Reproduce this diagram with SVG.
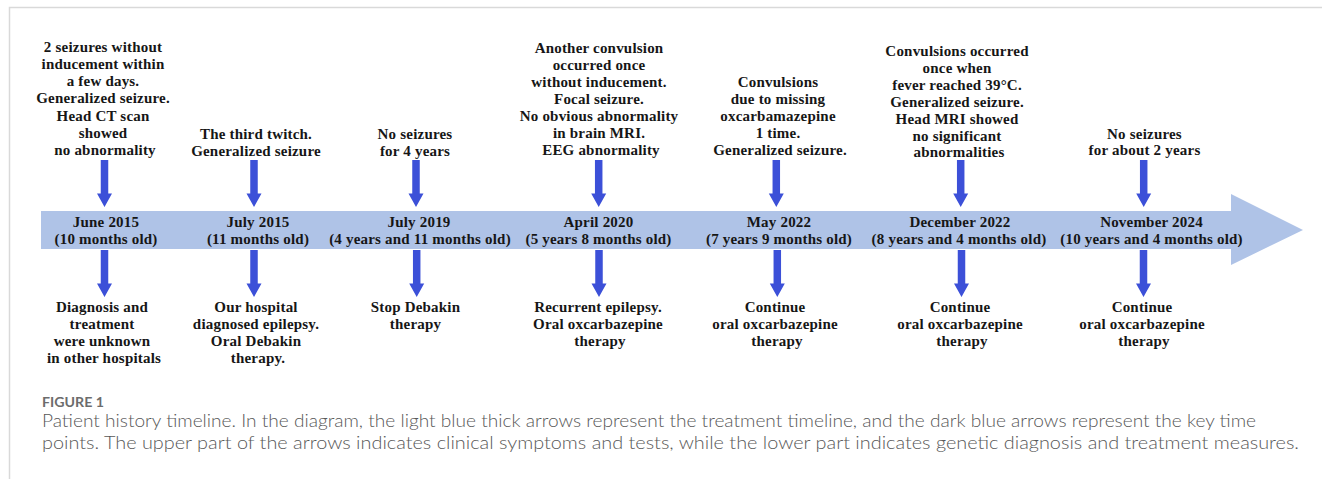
<svg xmlns="http://www.w3.org/2000/svg" xmlns:xlink="http://www.w3.org/1999/xlink" width="1322" height="479" viewBox="0 0 1322 479">
<style>
.t{font-family:"Liberation Serif","Times New Roman",serif;font-weight:bold;font-size:15px;letter-spacing:0.2px;fill:#161616;text-anchor:middle}
.cap{font-family:Lato,"Open Sans",sans-serif;font-size:17px;font-weight:300;fill:#585858}
.fig{font-family:Lato,"Open Sans",sans-serif;font-size:14px;font-weight:bold;fill:#6c6c6c}
.da{fill:#3c50d8}
.frame{stroke:#d9d9d9;stroke-width:1.5;fill:none}
</style>
<defs>
<path id="darr" d="M-3.75,0 H3.75 V33.5 H7.5 L0,47 L-7.5,33.5 H-3.75 Z"/>
</defs>
<rect width="1322" height="479" fill="#ffffff"/>
<path class="frame" d="M9.5,479 V7.5 H1322"/>

<g id="timeline">
<path d="M41,211 H1231 V194 L1303,230 L1231,265 V249 H41 Z" fill="#afc3e7"/>
</g>

<g id="connectors">
<use xlink:href="#darr" class="da" x="104.5" y="160"/>
<use xlink:href="#darr" class="da" x="254" y="160"/>
<use xlink:href="#darr" class="da" x="416" y="160"/>
<use xlink:href="#darr" class="da" x="598.7" y="160"/>
<use xlink:href="#darr" class="da" x="776.3" y="160"/>
<use xlink:href="#darr" class="da" x="960.7" y="160"/>
<use xlink:href="#darr" class="da" x="1143.7" y="160"/>
<use xlink:href="#darr" class="da" x="104.5" y="250"/>
<use xlink:href="#darr" class="da" x="254" y="250"/>
<use xlink:href="#darr" class="da" x="416.7" y="250"/>
<use xlink:href="#darr" class="da" x="599" y="250"/>
<use xlink:href="#darr" class="da" x="777.3" y="250"/>
<use xlink:href="#darr" class="da" x="961.5" y="250"/>
<use xlink:href="#darr" class="da" x="1143.5" y="250"/>
</g>

<g id="event-2015-06">
<text class="t" x="105">
<tspan x="105" y="51.8">2 seizures without</tspan>
<tspan x="105" y="69">inducement within</tspan>
<tspan x="105" y="86.2">a few days.</tspan>
<tspan x="105" y="103.4">Generalized seizure.</tspan>
<tspan x="105" y="120.6">Head CT scan</tspan>
<tspan x="105" y="137.8">showed</tspan>
<tspan x="105" y="155">no abnormality</tspan>
</text>
<text class="t"><tspan x="106" y="227">June 2015</tspan><tspan x="106" y="243.5">(10 months old)</tspan></text>
<text class="t">
<tspan x="104" y="312">Diagnosis and</tspan>
<tspan x="104" y="329">treatment</tspan>
<tspan x="104" y="346">were unknown</tspan>
<tspan x="104" y="363">in other hospitals</tspan>
</text>
</g>

<g id="event-2015-07">
<text class="t"><tspan x="256" y="139">The third twitch.</tspan><tspan x="256" y="156">Generalized seizure</tspan></text>
<text class="t"><tspan x="258" y="227">July 2015</tspan><tspan x="258" y="243.5">(11 months old)</tspan></text>
<text class="t">
<tspan x="258" y="312">Our hospital</tspan>
<tspan x="258" y="329">diagnosed epilepsy.</tspan>
<tspan x="258" y="346">Oral Debakin</tspan>
<tspan x="258" y="363">therapy.</tspan>
</text>
</g>

<g id="event-2019-07">
<text class="t"><tspan x="415" y="139">No seizures</tspan><tspan x="415" y="156">for 4 years</tspan></text>
<text class="t"><tspan x="419" y="227">July 2019</tspan><tspan x="420" y="243.5">(4 years and 11 months old)</tspan></text>
<text class="t"><tspan x="415.5" y="312">Stop Debakin</tspan><tspan x="415.5" y="329">therapy</tspan></text>
</g>

<g id="event-2020-04">
<text class="t">
<tspan x="601" y="52.5">Another convulsion</tspan>
<tspan x="601" y="69.6">occurred once</tspan>
<tspan x="601" y="86.7">without inducement.</tspan>
<tspan x="601" y="103.8">Focal seizure.</tspan>
<tspan x="601" y="120.9">No obvious abnormality</tspan>
<tspan x="601" y="138">in brain MRI.</tspan>
<tspan x="601" y="155.1">EEG abnormality</tspan>
</text>
<text class="t"><tspan x="598.5" y="227">April 2020</tspan><tspan x="598.5" y="243.5">(5 years 8 months old)</tspan></text>
<text class="t">
<tspan x="600" y="312">Recurrent epilepsy.</tspan>
<tspan x="600" y="329">Oral oxcarbazepine</tspan>
<tspan x="600" y="346">therapy</tspan>
</text>
</g>

<g id="event-2022-05">
<text class="t">
<tspan x="780" y="86.5">Convulsions</tspan>
<tspan x="780" y="103.5">due to missing</tspan>
<tspan x="780" y="120.5">oxcarbamazepine</tspan>
<tspan x="780" y="137.5">1 time.</tspan>
<tspan x="780" y="154.5">Generalized seizure.</tspan>
</text>
<text class="t"><tspan x="779" y="227">May 2022</tspan><tspan x="779" y="243.5">(7 years 9 months old)</tspan></text>
<text class="t">
<tspan x="777" y="312">Continue</tspan>
<tspan x="777" y="329">oral oxcarbazepine</tspan>
<tspan x="777" y="346">therapy</tspan>
</text>
</g>

<g id="event-2022-12">
<text class="t">
<tspan x="959" y="56">Convulsions occurred</tspan>
<tspan x="959" y="72.9">once when</tspan>
<tspan x="959" y="89.8">fever reached 39°C.</tspan>
<tspan x="959" y="106.7">Generalized seizure.</tspan>
<tspan x="959" y="123.6">Head MRI showed</tspan>
<tspan x="959" y="140.5">no significant</tspan>
<tspan x="959" y="157.4">abnormalities</tspan>
</text>
<text class="t"><tspan x="960" y="227">December 2022</tspan><tspan x="959" y="243.5">(8 years and 4 months old)</tspan></text>
<text class="t">
<tspan x="962" y="312">Continue</tspan>
<tspan x="962" y="329">oral oxcarbazepine</tspan>
<tspan x="962" y="346">therapy</tspan>
</text>
</g>

<g id="event-2024-11">
<text class="t"><tspan x="1144.5" y="138.5">No seizures</tspan><tspan x="1144.5" y="155">for about 2 years</tspan></text>
<text class="t"><tspan x="1151.5" y="227">November 2024</tspan><tspan x="1151.5" y="243.5">(10 years and 4 months old)</tspan></text>
<text class="t">
<tspan x="1144" y="312">Continue</tspan>
<tspan x="1144" y="329">oral oxcarbazepine</tspan>
<tspan x="1144" y="346">therapy</tspan>
</text>
</g>

<g id="caption">
<text class="fig" x="42" y="407" textLength="62" lengthAdjust="spacingAndGlyphs">FIGURE 1</text>
<text class="cap" x="42" y="427" textLength="1214" lengthAdjust="spacingAndGlyphs">Patient history timeline. In the diagram, the light blue thick arrows represent the treatment timeline, and the dark blue arrows represent the key time</text>
<text class="cap" x="42" y="449" textLength="1257" lengthAdjust="spacingAndGlyphs">points. The upper part of the arrows indicates clinical symptoms and tests, while the lower part indicates genetic diagnosis and treatment measures.</text>
</g>
</svg>
